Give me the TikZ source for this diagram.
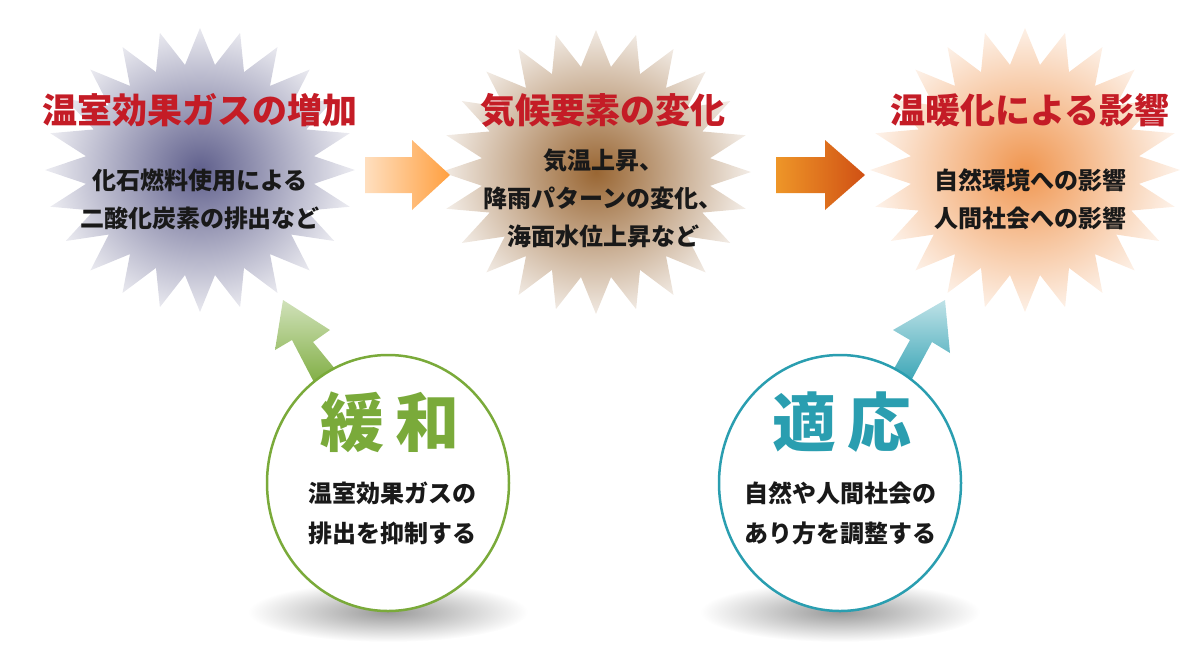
\documentclass[tikz,border=0pt]{standalone}
\usepackage{fontspec}
\setmainfont{Noto Sans CJK JP}
\usetikzlibrary{shapes.geometric}
\definecolor{ttl}{RGB}{196,28,38}
\definecolor{grn}{RGB}{122,170,58}
\definecolor{tel}{RGB}{42,158,176}
\definecolor{or1}{RGB}{238,150,40}
\definecolor{or2}{RGB}{208,80,20}
\definecolor{st3}{RGB}{240,150,80}
\tikzset{
 ttlt/.style={font=\bfseries\fontsize{35}{38}\selectfont,text=ttl},
 bodyt/.style={font=\bfseries\fontsize{24}{38}\selectfont,align=center,text=black!90},
 bigt/.style={font=\bfseries\fontsize{64}{66}\selectfont},
}
\newcommand{\burst}[4]{% x y color name
 \begin{scope}
 \clip plot[samples=48,domain=0:47,variable=\k] ({#1+(mod(\k,2)==0?155:115)*cos(\k*7.5)},{#2+(mod(\k,2)==0?142:106)*sin(\k*7.5)}) -- cycle;
 \shade[inner color=#3,outer color=white] (#1,#2) ellipse (175 and 165);
 \end{scope}
 \coordinate (#4) at (#1,#2);}
\begin{document}
\begin{tikzpicture}[x=1pt,y=-1pt]
\useasboundingbox (0,0) rectangle (1200,649);
\burst{200}{170}{black!30!blue!25!gray}{s1}
\burst{596}{172}{brown!80!black}{s2}
\burst{1025}{170}{st3}{s3}
% horizontal arrows
\shade[left color=orange!25,right color=orange!75] (365,157) -- (412,157) -- (412,140) -- (450,175) -- (412,210) -- (412,193) -- (365,193) -- cycle;
\shade[left color=or1,right color=or2] (776,157) -- (825,157) -- (825,140) -- (865,175) -- (825,210) -- (825,193) -- (776,193) -- cycle;
% titles
\node[ttlt] (t1) at (200,110) {温室効果ガスの増加};
\node[ttlt] (t2) at (603,110) {気候要素の変化};
\node[ttlt] (t3) at (1030,110) {温暖化による影響};
\node[bodyt] (b1) at (200,199) {化石燃料使用による\\二酸化炭素の排出など};
\node[bodyt] (b2) at (603,198) {気温上昇、\\降雨パターンの変化、\\海面水位上昇など};
\node[bodyt] (b3) at (1030,199) {自然環境への影響\\人間社会への影響};
% shadows
\shade[inner color=black!40,outer color=white] (388,612) ellipse (140 and 30);
\shade[inner color=black!40,outer color=white] (840,612) ellipse (140 and 30);
% diagonal arrows
\shade[top color=grn!35,bottom color=grn] (340,375) -- (313,342) -- (330,330) -- (283,300) -- (275,350) -- (292,340) -- (318,390) -- cycle;
\shade[top color=tel!30,bottom color=tel] (885,385) -- (910,340) -- (893,330) -- (945,300) -- (950,353) -- (932,342) -- (905,392) -- cycle;
% circles
\node[draw=grn,line width=2.5pt,fill=white,ellipse,minimum width=242,minimum height=256] (c1) at (388,483) {};
\node[draw=tel,line width=2.5pt,fill=white,ellipse,minimum width=242,minimum height=256] (c2) at (840,483) {};
\node[bigt,text=grn] (m1) at (390,422) {緩\,和};
\node[bigt,text=tel] (m2) at (842,422) {適\,応};
\node[bodyt,font=\bfseries\fontsize{24}{40}\selectfont] (d1) at (392,513) {温室効果ガスの\\排出を抑制する};
\node[bodyt,font=\bfseries\fontsize{24}{40}\selectfont] (d2) at (840,513) {自然や人間社会の\\あり方を調整する};
\end{tikzpicture}
\end{document}
